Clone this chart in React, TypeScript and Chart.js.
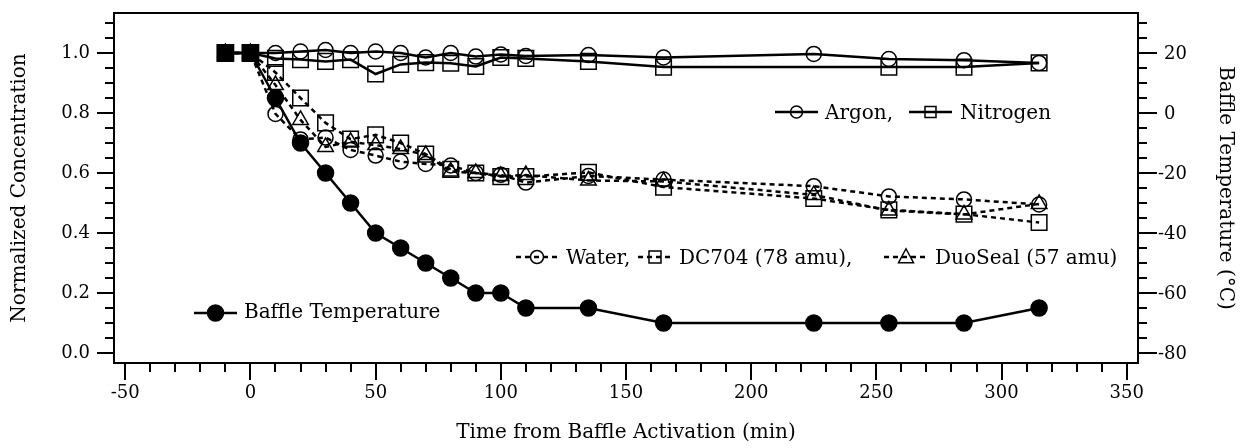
import React, { useEffect, useRef } from 'react';
import { Chart, registerables } from 'chart.js';

Chart.register(...registerables);

// ---- data ----
const TIME_ALL = [-10, 0, 10, 20, 30, 40, 50, 60, 70, 80, 90, 100, 110, 135, 165, 225, 255, 285, 315];
const TIME_N2 = [-10, 0, 10, 20, 30, 40, 50, 60, 70, 80, 90, 100, 110, 135, 165, 255, 285, 315];
const ARGON = [1.0, 1.0, 1.0, 1.005, 1.01, 1.0, 1.005, 1.0, 0.985, 1.0, 0.988, 0.995, 0.99, 0.993, 0.985, 0.997, 0.98, 0.976, 0.967];
const NITROGEN = [1.0, 1.0, 0.982, 0.978, 0.972, 0.978, 0.93, 0.962, 0.968, 0.966, 0.955, 0.985, 0.982, 0.972, 0.953, 0.953, 0.953, 0.967];
const WATER = [1.0, 1.0, 0.797, 0.712, 0.718, 0.677, 0.658, 0.638, 0.63, 0.625, 0.6, 0.594, 0.568, 0.59, 0.578, 0.556, 0.522, 0.512, 0.495];
const DC704 = [1.0, 1.0, 0.935, 0.85, 0.767, 0.713, 0.727, 0.7, 0.663, 0.612, 0.6, 0.588, 0.588, 0.602, 0.553, 0.515, 0.477, 0.463, 0.435];
const DUOSEAL = [1.0, 1.0, 0.893, 0.777, 0.687, 0.704, 0.693, 0.68, 0.66, 0.605, 0.6, 0.59, 0.593, 0.575, 0.572, 0.527, 0.475, 0.462, 0.497];
const BAFFLE_TEMP = [20, 20, 5, -10, -20, -30, -40, -45, -50, -55, -60, -60, -65, -65, -70, -70, -70, -70, -65];

const X_TICKS = [-50, 0, 50, 100, 150, 200, 250, 300, 350];
const Y_TICKS = [0.0, 0.2, 0.4, 0.6, 0.8, 1.0];
const Y2_TICKS = [-80, -60, -40, -20, 0, 20];
const X_MINOR_STEP = 10;
const Y_MINOR_STEP = 0.05;
const Y2_MINOR_STEP = 5;

const X_TITLE = 'Time from Baffle Activation (min)';
const Y_TITLE = 'Normalized Concentration';
const Y2_TITLE = 'Baffle Temperature (°C)';

const FONT = 'DejaVu Serif';
const DASH = [5, 4];

const pts = (xs: number[], ys: number[]) => xs.map((x, i) => ({ x, y: ys[i] }));

function drawMarker(ctx: CanvasRenderingContext2D, kind: string, x: number, y: number, r: number, filled: boolean) {
  ctx.save();
  ctx.setLineDash([]);
  ctx.lineWidth = 1.5;
  ctx.strokeStyle = '#000';
  ctx.fillStyle = '#000';
  ctx.beginPath();
  if (kind === 'circle') {
    ctx.arc(x, y, r, 0, Math.PI * 2);
  } else if (kind === 'rect') {
    ctx.rect(x - r, y - r, 2 * r, 2 * r);
  } else {
    ctx.moveTo(x, y - r * 1.1);
    ctx.lineTo(x + r, y + r * 0.75);
    ctx.lineTo(x - r, y + r * 0.75);
    ctx.closePath();
  }
  if (filled) ctx.fill();
  ctx.stroke();
  ctx.restore();
}

type LegendItem = { kind: string; dashed: boolean; filled: boolean; text: string; x1: number; x2: number; tx: number; r: number };

function drawLegend(ctx: CanvasRenderingContext2D, y: number, baseline: number, items: LegendItem[], fontSize: number) {
  ctx.save();
  ctx.font = `${fontSize}px "${FONT}"`;
  ctx.textBaseline = 'alphabetic';
  ctx.textAlign = 'left';
  ctx.fillStyle = '#000';
  for (const it of items) {
    ctx.strokeStyle = '#000';
    ctx.lineWidth = 2.5;
    ctx.setLineDash(it.dashed ? DASH : []);
    ctx.beginPath();
    ctx.moveTo(it.x1, y);
    ctx.lineTo(it.x2, y);
    ctx.stroke();
    ctx.setLineDash([]);
    drawMarker(ctx, it.kind, (it.x1 + it.x2) / 2, y, it.r, it.filled);
    ctx.fillText(it.text, it.tx, baseline);
  }
  ctx.restore();
}

const decorPlugin = {
  id: 'decor',
  afterDraw(chart: any) {
    const { ctx, chartArea: a, scales } = chart;
    ctx.save();
    ctx.strokeStyle = '#000';
    ctx.lineWidth = 2;
    ctx.setLineDash([]);
    ctx.strokeRect(a.left, a.top, a.right - a.left, a.bottom - a.top);
    const seg = (x1: number, y1: number, x2: number, y2: number) => {
      ctx.beginPath();
      ctx.moveTo(x1, y1);
      ctx.lineTo(x2, y2);
      ctx.stroke();
    };
    const MAJ = 17, MIN = 9;
    const xs = scales.x;
    for (let v = X_TICKS[0]; v <= X_TICKS[X_TICKS.length - 1] + 1e-9; v += X_MINOR_STEP) {
      const px = Math.round(xs.getPixelForValue(v));
      const major = X_TICKS.some((t) => Math.abs(t - v) < 1e-6);
      seg(px, a.bottom, px, a.bottom + (major ? MAJ : MIN));
    }
    const ys = scales.y;
    for (let v = 0; v <= ys.max + 1e-9; v += Y_MINOR_STEP) {
      const py = Math.round(ys.getPixelForValue(v));
      const major = Y_TICKS.some((t) => Math.abs(t - v) < 1e-6);
      seg(a.left - (major ? MAJ : MIN), py, a.left, py);
    }
    const y2 = scales.y2;
    for (let v = Y2_TICKS[0]; v <= y2.max + 1e-9; v += Y2_MINOR_STEP) {
      const py = Math.round(y2.getPixelForValue(v));
      const major = Y2_TICKS.some((t) => Math.abs(t - v) < 1e-6);
      seg(a.right, py, a.right + (major ? MAJ + 2 : MIN), py);
    }
    // right-axis labels with hanging minus sign
    ctx.font = `18px "${FONT}"`;
    ctx.fillStyle = '#000';
    ctx.textAlign = 'left';
    ctx.textBaseline = 'middle';
    const minusW = ctx.measureText('-').width;
    for (const v of Y2_TICKS) {
      const py = y2.getPixelForValue(v);
      ctx.fillText(String(v), a.right + 26 - (v < 0 ? minusW : 0), py + 1);
    }
    ctx.restore();

    drawLegend(ctx, 112, 119, [
      { kind: 'circle', dashed: false, filled: false, text: 'Argon,', x1: 775, x2: 818, tx: 825, r: 6 },
      { kind: 'rect', dashed: false, filled: false, text: 'Nitrogen', x1: 909, x2: 952, tx: 960, r: 5.5 },
    ], 20);
    drawLegend(ctx, 257, 264, [
      { kind: 'circle', dashed: true, filled: false, text: 'Water,', x1: 516, x2: 558, tx: 566, r: 6.5 },
      { kind: 'rect', dashed: true, filled: false, text: 'DC704 (78 amu),', x1: 638, x2: 672, tx: 679, r: 6 },
      { kind: 'triangle', dashed: true, filled: false, text: 'DuoSeal (57 amu)', x1: 884, x2: 928, tx: 935, r: 7.5 },
    ], 20);
    drawLegend(ctx, 313, 318, [
      { kind: 'circle', dashed: false, filled: true, text: 'Baffle Temperature', x1: 194, x2: 237, tx: 244, r: 8 },
    ], 20);
  },
};

const noPad = (s: any) => {
  s.paddingTop = 0;
  s.paddingBottom = 0;
};

export default function App() {
  const ref = useRef<HTMLCanvasElement | null>(null);
  useEffect(() => {
    if (!ref.current) return;
    const common = {
      borderColor: '#000',
      pointBorderColor: '#000',
      pointBorderWidth: 1.5,
      pointBackgroundColor: 'rgba(0,0,0,0)',
      borderWidth: 2.5,
      fill: false,
      tension: 0,
    };
    const chart = new Chart(ref.current, {
      type: 'line',
      data: {
        datasets: [
          {
            ...common,
            label: 'Baffle Temperature',
            data: pts(TIME_ALL, BAFFLE_TEMP),
            yAxisID: 'y2',
            pointStyle: TIME_ALL.map((t) => (t <= 0 ? 'rect' : 'circle')),
            pointRadius: TIME_ALL.map((t) => (t <= 0 ? 11.5 : 8)),
            pointBackgroundColor: '#000',
          },
          {
            ...common,
            label: 'Argon',
            data: pts(TIME_ALL, ARGON),
            yAxisID: 'y',
            pointStyle: 'circle',
            pointRadius: 7.5,
          },
          {
            ...common,
            label: 'Nitrogen',
            data: pts(TIME_N2, NITROGEN),
            yAxisID: 'y',
            pointStyle: 'rect',
            pointRadius: 11,
          },
          {
            ...common,
            label: 'Water',
            data: pts(TIME_ALL, WATER),
            yAxisID: 'y',
            borderDash: DASH,
            pointStyle: 'circle',
            pointRadius: 7.5,
          },
          {
            ...common,
            label: 'DC704 (78 amu)',
            data: pts(TIME_ALL, DC704),
            yAxisID: 'y',
            borderDash: DASH,
            pointStyle: 'rect',
            pointRadius: 11,
          },
          {
            ...common,
            label: 'DuoSeal (57 amu)',
            data: pts(TIME_ALL, DUOSEAL),
            yAxisID: 'y',
            borderDash: DASH,
            pointStyle: 'triangle',
            pointRadius: 9,
          },
        ],
      },
      options: {
        responsive: false,
        animation: false,
        layout: { padding: { top: 13, left: 0, right: 0, bottom: 0 } },
        plugins: { legend: { display: false }, tooltip: { enabled: false } },
        scales: {
          x: {
            type: 'linear',
            min: -54.5,
            max: 354.5,
            grid: { drawOnChartArea: false, drawTicks: false, color: 'rgba(0,0,0,0)' },
            border: { display: false },
            afterBuildTicks: (s: any) => {
              s.ticks = X_TICKS.map((v) => ({ value: v }));
            },
            afterFit: (s: any) => {
              s.height = 85;
              s.paddingLeft = 0;
              s.paddingRight = 0;
            },
            ticks: {
              color: '#000',
              font: { family: FONT, size: 18 },
              padding: 20,
              maxRotation: 0,
              autoSkip: false,
              callback: (v: any) => String(v),
            },
            title: {
              display: true,
              text: X_TITLE,
              color: '#000',
              font: { family: FONT, size: 20 },
              padding: { top: 0, bottom: 3 },
            },
          },
          y: {
            type: 'linear',
            position: 'left',
            min: -1 / 30,
            max: 1 + 2 / 15,
            grid: { drawOnChartArea: false, drawTicks: false, color: 'rgba(0,0,0,0)' },
            border: { display: false },
            afterBuildTicks: (s: any) => {
              s.ticks = Y_TICKS.map((v) => ({ value: v }));
            },
            afterFit: (s: any) => {
              s.width = 114;
              noPad(s);
            },
            ticks: {
              color: '#000',
              font: { family: FONT, size: 18 },
              padding: 24,
              autoSkip: false,
              callback: (v: any) => Number(v).toFixed(1),
            },
            title: {
              display: true,
              text: Y_TITLE,
              color: '#000',
              font: { family: FONT, size: 20 },
              padding: { top: 8, bottom: 0 },
            },
          },
          y2: {
            type: 'linear',
            position: 'right',
            min: -80 - 10 / 3,
            max: 20 + 40 / 3,
            grid: { drawOnChartArea: false, drawTicks: false, color: 'rgba(0,0,0,0)' },
            border: { display: false },
            afterBuildTicks: (s: any) => {
              s.ticks = Y2_TICKS.map((v) => ({ value: v }));
            },
            afterFit: (s: any) => {
              s.width = 103;
              noPad(s);
            },
            ticks: {
              display: false,
            },
            title: {
              display: true,
              text: Y2_TITLE,
              color: '#000',
              font: { family: FONT, size: 20 },
              padding: { top: 4, bottom: 0 },
            },
          },
        },
      },
      plugins: [decorPlugin],
    } as any);
    return () => chart.destroy();
  }, []);
  return (
    <div style={{ position: 'absolute', left: 0, top: 0, width: 1241, height: 448, background: '#fff' }}>
      <canvas ref={ref} width={1241} height={448} style={{ display: 'block' }} />
    </div>
  );
}
